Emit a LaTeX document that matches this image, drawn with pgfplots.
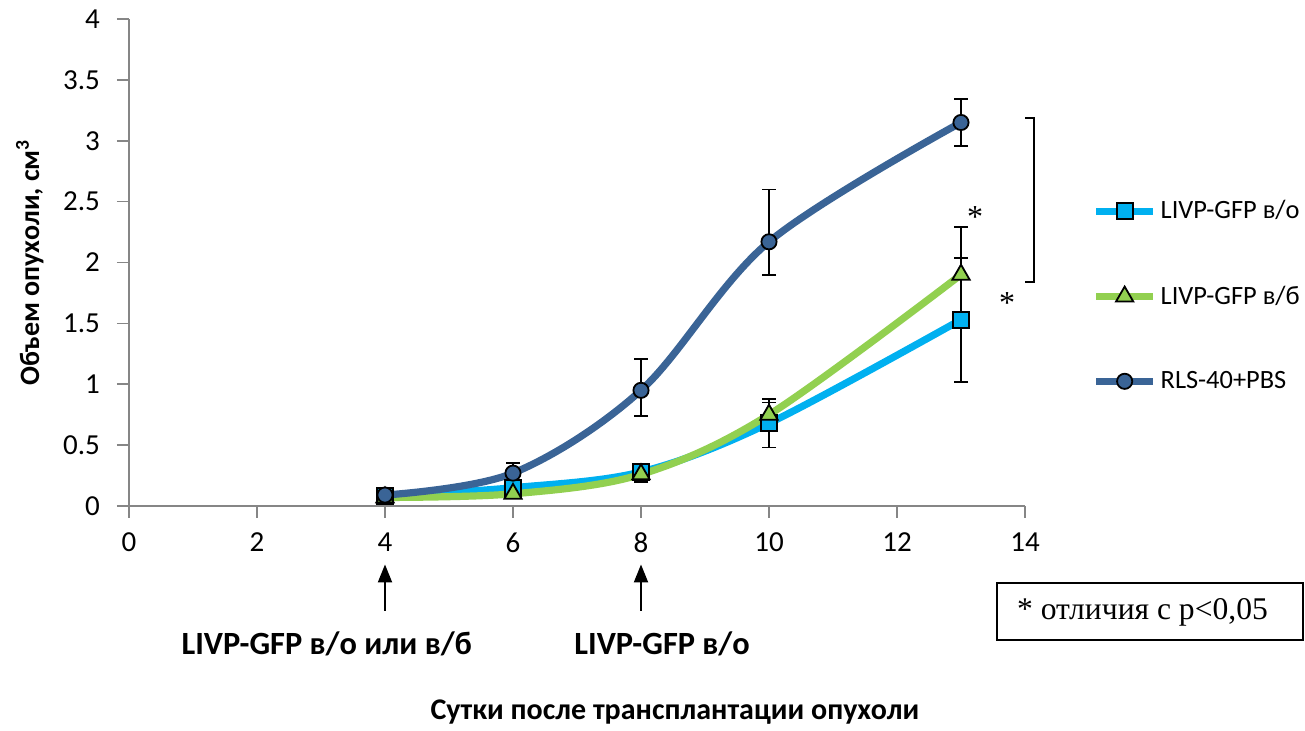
\documentclass[border=0pt]{standalone}
\usepackage{pgfplots}
\pgfplotsset{compat=1.18}
\usepackage{fontspec}
\setmainfont{Carlito}
\newfontfamily\timesf{Liberation Serif}
\usetikzlibrary{arrows.meta}
\definecolor{cDark}{HTML}{3A6496}
\definecolor{cLight}{HTML}{00B0F0}
\definecolor{cGreen}{HTML}{92D050}
\definecolor{cAxis}{HTML}{868686}
\begin{document}
\begin{tikzpicture}
\path (-64.5pt,-109pt) rectangle (588pt,253pt);
\begin{axis}[
  scale only axis,
  width=448pt, height=243.5pt,
  xmin=0, xmax=14, ymin=0, ymax=4,
  xtick={0,2,...,14},
  ytick={0,0.5,...,4},
  axis x line*=bottom, axis y line*=left,
  axis line style={cAxis, line width=0.8pt},
  tick style={cAxis, line width=0.8pt},
  tick align=outside,
  major tick length=6pt,
  tick label style={font=\fontsize{14.5}{16}\selectfont},
  xticklabel style={yshift=-4pt},
  yticklabel style={xshift=-5pt},
  /pgf/number format/assume math mode=true,
  clip=false,
  legend style={at={(axis cs:15.05,1.725)}, anchor=west, draw=none, fill=none,
    font=\fontsize{13.2}{15}\selectfont, row sep=28pt, inner xsep=0pt},
  legend cell align=left,
  legend image code/.code={\draw[mark repeat=2,mark phase=2,#1] plot coordinates {(0cm,0cm) (0.5cm,0cm) (1cm,0cm)};},
  error bars/y dir=both, error bars/y explicit,
  error bars/error bar style={black, line width=0.9pt},
  error bars/error mark options={rotate=90, black, mark size=3.5pt, line width=0.9pt},
]
\addplot[cLight, line width=3.6pt, smooth, tension=0.55,
  mark=square*, mark size=4pt, mark options={fill=cLight, draw=black, line width=0.9pt}]
  coordinates {
  (4,0.08) +- (0,0)
  (6,0.15) +- (0,0)
  (8,0.28) += (0,0.06) -= (0,0.08)
  (10,0.68) += (0,0.2) -= (0,0.2)
  (13,1.53) += (0,0.51) -= (0,0.51)
};
\addlegendentry{LIVP-GFP в/о}
\addplot[cGreen, line width=3.6pt, smooth, tension=0.55,
  mark=triangle*, mark size=5pt, mark options={fill=cGreen, draw=black, line width=0.9pt}]
  coordinates {
  (4,0.07) +- (0,0)
  (6,0.10) +- (0,0)
  (8,0.26) +- (0,0.05)
  (10,0.75) +- (0,0.10)
  (13,1.90) +- (0,0.39)
};
\addlegendentry{LIVP-GFP в/б}
\addplot[cDark, line width=3.6pt, smooth, tension=0.55,
  mark=*, mark size=3.8pt, mark options={fill=cDark, draw=black, line width=0.9pt}]
  coordinates {
  (4,0.09) +- (0,0)
  (6,0.27) += (0,0.08) -= (0,0.06)
  (8,0.95) += (0,0.26) -= (0,0.21)
  (10,2.17) += (0,0.43) -= (0,0.27)
  (13,3.15) +- (0,0.19)
};
\addlegendentry{RLS-40+PBS}
% bracket and stars
\draw[black, line width=0.9pt] (axis cs:14.0,3.19) -- (axis cs:14.14,3.19) -- (axis cs:14.14,1.84) -- (axis cs:14.0,1.84);
\node[font=\timesf\fontsize{16}{16}\selectfont] at (axis cs:13.22,2.37) {*};
\node[font=\timesf\fontsize{16}{16}\selectfont] at (axis cs:13.72,1.67) {*};
% arrows and labels
\draw[-{Triangle[length=9pt,width=7pt]}, black, line width=1pt] (axis cs:4,-0.86) -- (axis cs:4,-0.48);
\draw[-{Triangle[length=9pt,width=7pt]}, black, line width=1pt] (axis cs:8,-0.86) -- (axis cs:8,-0.48);
\node[font=\bfseries\fontsize{16.2}{18}\selectfont] at (axis cs:3.09,-1.13) {LIVP-GFP в/о или в/б};
\node[font=\bfseries\fontsize{16.2}{18}\selectfont] at (axis cs:8.33,-1.13) {LIVP-GFP в/о};
\node[font=\bfseries\fontsize{15}{17}\selectfont] at (axis cs:8.53,-1.69) {Сутки после трансплантации опухоли};
\node[font=\bfseries\fontsize{14}{16}\selectfont, rotate=90] at (axis cs:-1.55,2.0) {Объем опухоли, см\textsuperscript{3}};
\end{axis}
\draw[black, line width=1pt] (434pt,-38.5pt) rectangle (587pt,-67pt);
\node[font=\timesf\fontsize{15.8}{18}\selectfont] at (506.75pt,-53pt) {* отличия с р<0,05};
\end{tikzpicture}
\end{document}
